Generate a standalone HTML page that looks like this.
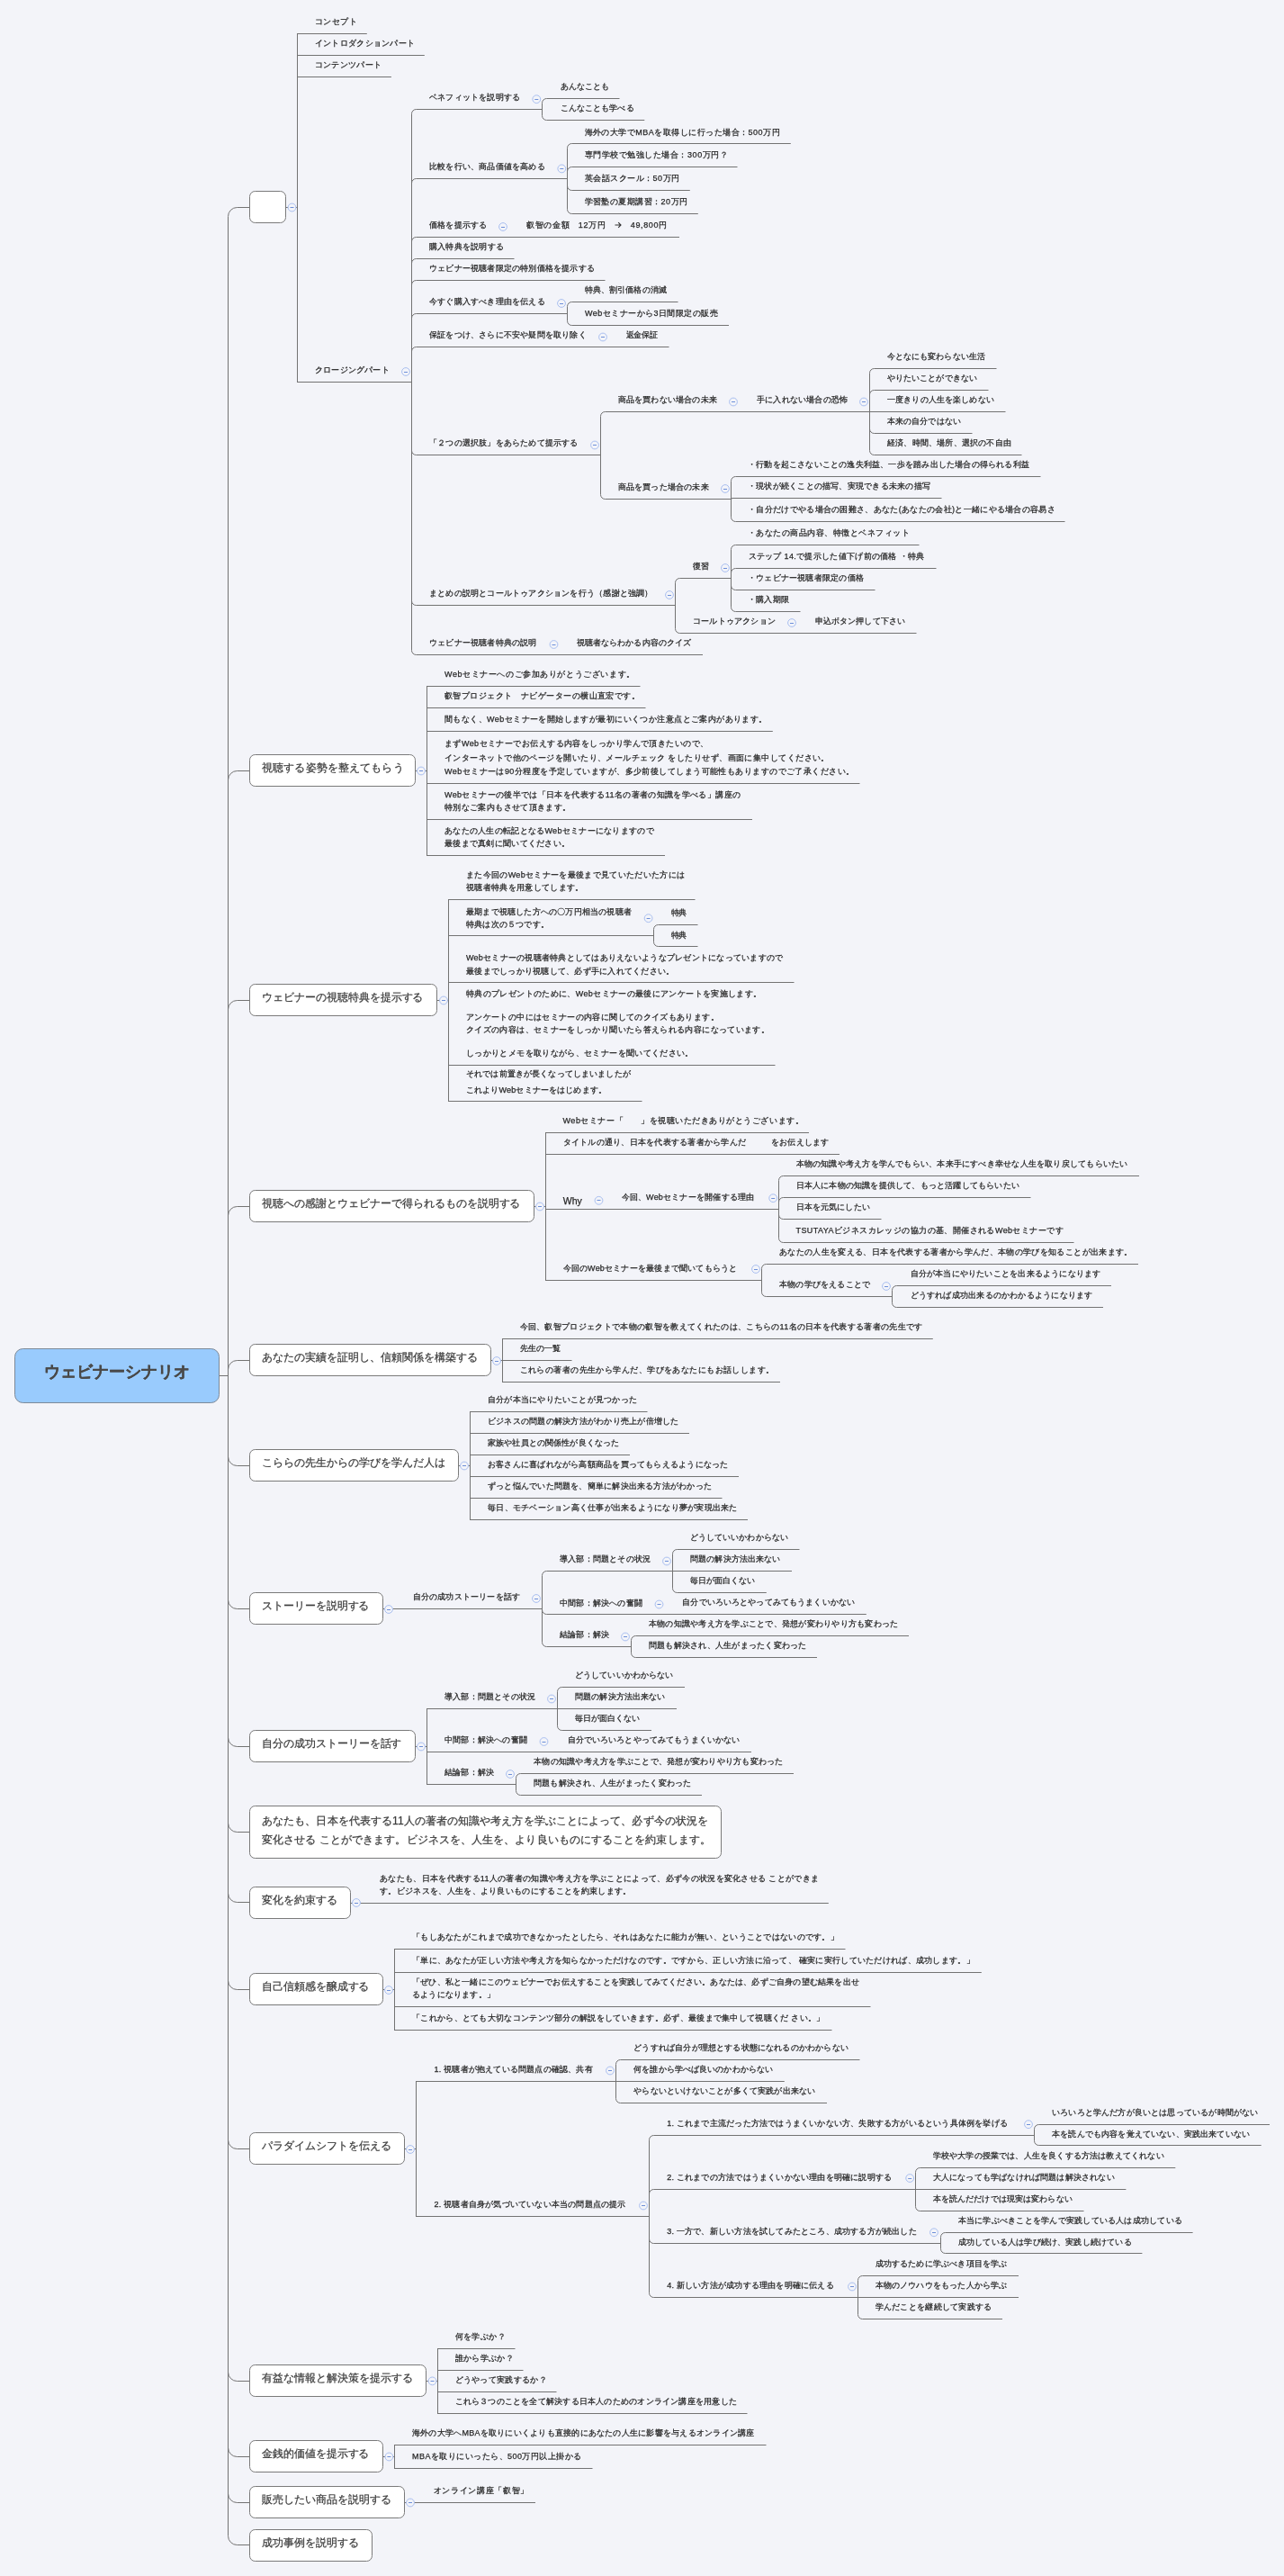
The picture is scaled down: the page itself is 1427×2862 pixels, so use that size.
<!DOCTYPE html><html><head><meta charset="utf-8"><style>
html,body{margin:0;padding:0;width:1427px;height:2862px;overflow:hidden;background:#f3f4f9;}
body{position:relative;font-family:"Liberation Sans",sans-serif;}
.t{position:absolute;white-space:nowrap;-webkit-text-stroke:0.25px currentColor;} #tx{position:absolute;left:0;top:0;width:1427px;height:2862px;will-change:transform;}
#lines{position:absolute;left:0;top:0;}
</style></head><body>
<svg id="lines" width="1427" height="2862" viewBox="0 0 1427 2862">
<path d="M243.7 1528.5H253.5M253.5 240.5A10 10 0 0 1 263.5 230.5H277.5M253.5 866.5A10 10 0 0 1 263.5 856.5H277.5M253.5 1121.5A10 10 0 0 1 263.5 1111.5H277.5M253.5 1350.5A10 10 0 0 1 263.5 1340.5H277.5M253.5 1521.5A10 10 0 0 1 263.5 1511.5H277.5M253.5 1618.5A10 10 0 0 0 263.5 1628.5H277.5M253.5 1777.5A10 10 0 0 0 263.5 1787.5H277.5M253.5 1930.5A10 10 0 0 0 263.5 1940.5H277.5M253.5 2025.5A10 10 0 0 0 263.5 2035.5H277.5M253.5 2103.5A10 10 0 0 0 263.5 2113.5H277.5M253.5 2200.5A10 10 0 0 0 263.5 2210.5H277.5M253.5 2377.5A10 10 0 0 0 263.5 2387.5H277.5M253.5 2635.5A10 10 0 0 0 263.5 2645.5H277.5M253.5 2719.5A10 10 0 0 0 263.5 2729.5H277.5M253.5 2770.5A10 10 0 0 0 263.5 2780.5H277.5M253.5 2817.5A10 10 0 0 0 263.5 2827.5H277.5M253.5 240.5V2817.5M317.5 230.5H330.5M330.5 37.0V425.0M330.5 37.5H407.8M330.5 61.5H471.8M330.5 85.5H434.9M330.5 424.5H457.5M457.5 126.5V722.5M457.5 126.5A5 5 0 0 1 462.5 121.5H602.3M602.5 114.5V128.5M602.5 114.5A5 5 0 0 1 607.5 109.5H688.5M602.5 128.5A5 5 0 0 0 607.5 133.5H716.3M457.5 203.5A5 5 0 0 1 462.5 198.5H630.5M630.5 164.5V232.5M630.5 164.5A5 5 0 0 1 635.5 159.5H878.8M630.5 190.5A5 5 0 0 1 635.5 185.5H819.5M630.5 206.5A5 5 0 0 0 635.5 211.5H766.8M630.5 232.5A5 5 0 0 0 635.5 237.5H775.8M457.5 268.5A5 5 0 0 1 462.5 263.5H755.0M457.5 292.5A5 5 0 0 1 462.5 287.5H571.5M457.5 316.5A5 5 0 0 1 462.5 311.5H672.5M457.5 353.5A5 5 0 0 1 462.5 348.5H630.5M630.5 340.5V356.5M630.5 340.5A5 5 0 0 1 635.5 335.5H753.5M630.5 356.5A5 5 0 0 0 635.5 361.5H810.0M457.5 390.5A5 5 0 0 1 462.5 385.5H743.5M457.5 500.5A5 5 0 0 0 462.5 505.5H667.5M667.5 462.5V549.5M667.5 462.5A5 5 0 0 1 672.5 457.5H966.5M966.5 414.5V500.5M966.5 414.5A5 5 0 0 1 971.5 409.5H1107.5M966.5 438.5A5 5 0 0 1 971.5 433.5H1098.5M966.5 457.5H1117.5M966.5 476.5A5 5 0 0 0 971.5 481.5H1080.5M966.5 500.5A5 5 0 0 0 971.5 505.5H1135.5M667.5 549.5A5 5 0 0 0 672.5 554.5H812.5M812.5 534.5V574.5M812.5 534.5A5 5 0 0 1 817.5 529.5H1156.5M812.5 555.0A1.5 1.5 0 0 1 814.0 553.5H1046.5M812.5 574.5A5 5 0 0 0 817.5 579.5H1183.5M457.5 667.5A5 5 0 0 0 462.5 672.5H751.0M750.5 647.5V698.5M750.5 647.5A5 5 0 0 1 755.5 642.5H812.5M812.5 610.5V674.5M812.5 610.5A5 5 0 0 1 817.5 605.5H1021.5M812.5 636.5A5 5 0 0 1 817.5 631.5H1040.5M812.5 650.5A5 5 0 0 0 817.5 655.5H972.5M812.5 674.5A5 5 0 0 0 817.5 679.5H889.5M750.5 698.5A5 5 0 0 0 755.5 703.5H1018.5M457.5 722.5A5 5 0 0 0 462.5 727.5H781.0M461.5 856.5H474.6M474.5 762.0V951.0M474.6 762.5H711.5M474.6 786.5H717.5M474.6 812.5H858.8M474.6 870.5H955.5M474.6 910.5H836.0M474.6 950.5H739.0M485.5 1111.5H498.8M498.5 999.0V1224.0M498.8 999.5H772.5M498.8 1039.5H726.6M726.5 1032.5V1046.5M726.5 1032.5A5 5 0 0 1 731.5 1027.5H775.5M726.5 1046.5A5 5 0 0 0 731.5 1051.5H775.5M498.8 1091.5H882.5M498.8 1183.5H861.5M498.8 1223.5H713.5M593.5 1340.5H606.5M606.5 1258.0V1423.0M606.5 1258.5H899.0M606.5 1282.5H933.0M606.5 1343.5H865.5M865.5 1311.5V1375.5M865.5 1311.5A5 5 0 0 1 870.5 1306.5H1266.0M865.5 1335.5A5 5 0 0 1 870.5 1330.5H1145.5M865.5 1349.5A5 5 0 0 0 870.5 1354.5H979.5M865.5 1375.5A5 5 0 0 0 870.5 1380.5H1193.5M606.5 1422.5H846.5M846.5 1409.5V1435.5M846.5 1409.5A5 5 0 0 1 851.5 1404.5H1265.0M846.5 1435.5A5 5 0 0 0 851.5 1440.5H991.5M991.5 1433.5V1447.5M991.5 1433.5A5 5 0 0 1 996.5 1428.5H1235.0M991.5 1447.5A5 5 0 0 0 996.5 1452.5H1226.0M545.5 1511.5H558.5M558.5 1487.0V1536.0M558.5 1487.5H1036.8M558.5 1511.5H635.5M558.5 1535.5H867.0M509.5 1628.5H523.0M522.5 1568.0V1689.0M523.0 1568.5H719.5M523.0 1592.5H766.0M523.0 1616.5H700.0M523.0 1640.5H821.0M523.0 1664.5H802.5M523.0 1688.5H831.0M425.5 1787.5H602.5M602.5 1750.5V1824.5M602.5 1750.5A5 5 0 0 1 607.5 1745.5H747.5M747.5 1726.5V1764.5M747.5 1726.5A5 5 0 0 1 752.5 1721.5H888.5M747.5 1745.5H880.0M747.5 1764.5A5 5 0 0 0 752.5 1769.5H851.8M602.5 1788.5A5 5 0 0 0 607.5 1793.5H962.8M602.5 1824.5A5 5 0 0 0 607.5 1829.5H701.2M701.5 1822.5V1836.5M701.5 1822.5A5 5 0 0 1 706.5 1817.5H1010.0M701.5 1836.5A5 5 0 0 0 706.5 1841.5H908.0M461.5 1940.5H474.5M474.5 1898.0V1983.0M474.5 1898.5H619.5M619.5 1879.5V1917.5M619.5 1879.5A5 5 0 0 1 624.5 1874.5H761.0M619.5 1898.5H752.0M619.5 1917.5A5 5 0 0 0 624.5 1922.5H724.0M474.5 1946.5H835.0M474.5 1982.5H573.5M573.5 1975.5V1989.5M573.5 1975.5A5 5 0 0 1 578.5 1970.5H882.0M573.5 1989.5A5 5 0 0 0 578.5 1994.5H780.0M389.5 2114.5H920.8M425.5 2210.5H438.5M438.5 2165.0V2256.0M438.5 2165.5H939.5M438.5 2191.5H1090.8M438.5 2229.5H967.5M438.5 2255.5H924.5M449.5 2387.5H462.5M462.5 2312.0V2463.0M462.5 2312.5H684.5M684.5 2293.5V2331.5M684.5 2293.5A5 5 0 0 1 689.5 2288.5H955.5M684.5 2312.5H871.8M684.5 2331.5A5 5 0 0 0 689.5 2336.5H919.0M462.5 2462.5H721.8M721.5 2377.5V2547.5M721.5 2377.5A5 5 0 0 1 726.5 2372.5H1150.0M1149.5 2365.5V2378.5M1149.5 2365.5A5 5 0 0 1 1154.5 2360.5H1411.0M1149.5 2378.5A5 5 0 0 0 1154.5 2383.5H1401.7M721.5 2437.5A5 5 0 0 1 726.5 2432.5H1017.3M1017.5 2413.5V2451.5M1017.5 2413.5A5 5 0 0 1 1022.5 2408.5H1306.3M1017.3 2432.5H1251.4M1017.5 2451.5A5 5 0 0 0 1022.5 2456.5H1204.5M721.5 2487.5A5 5 0 0 0 726.5 2492.5H1045.6M1045.5 2485.5V2498.5M1045.5 2485.5A5 5 0 0 1 1050.5 2480.5H1325.6M1045.5 2498.5A5 5 0 0 0 1050.5 2503.5H1269.4M721.5 2547.5A5 5 0 0 0 726.5 2552.5H953.5M953.5 2533.5V2571.5M953.5 2533.5A5 5 0 0 1 958.5 2528.5H1132.0M953.5 2552.5H1132.0M953.5 2571.5A5 5 0 0 0 958.5 2576.5H1114.0M473.5 2645.5H486.5M486.5 2609.0V2682.0M486.5 2609.5H572.5M486.5 2633.5H581.5M486.5 2657.5H618.5M486.5 2681.5H830.5M425.5 2729.5H438.4M438.5 2716.0V2743.0M438.4 2716.5H851.5M438.4 2742.5H658.5M449.5 2780.5H595.0" fill="none" stroke="#737373" stroke-width="1"/>
<rect x="277.5" y="212.5" width="40.0" height="35.0" rx="6" fill="#fff" stroke="#7a7a7a"/>
<rect x="277.5" y="838.5" width="184.0" height="35.0" rx="6" fill="#fff" stroke="#7a7a7a"/>
<rect x="277.5" y="1093.5" width="208.0" height="35.0" rx="6" fill="#fff" stroke="#7a7a7a"/>
<rect x="277.5" y="1322.5" width="316.0" height="35.0" rx="6" fill="#fff" stroke="#7a7a7a"/>
<rect x="277.5" y="1493.5" width="268.0" height="35.0" rx="6" fill="#fff" stroke="#7a7a7a"/>
<rect x="277.5" y="1610.5" width="232.0" height="35.0" rx="6" fill="#fff" stroke="#7a7a7a"/>
<rect x="277.5" y="1769.5" width="148.0" height="35.0" rx="6" fill="#fff" stroke="#7a7a7a"/>
<rect x="277.5" y="1922.5" width="184.0" height="35.0" rx="6" fill="#fff" stroke="#7a7a7a"/>
<rect x="277.5" y="2006.5" width="524.0" height="58.0" rx="6" fill="#fff" stroke="#7a7a7a"/>
<rect x="277.5" y="2096.5" width="112.0" height="35.0" rx="6" fill="#fff" stroke="#7a7a7a"/>
<rect x="277.5" y="2192.5" width="148.0" height="35.0" rx="6" fill="#fff" stroke="#7a7a7a"/>
<rect x="277.5" y="2369.5" width="172.0" height="35.0" rx="6" fill="#fff" stroke="#7a7a7a"/>
<rect x="277.5" y="2627.5" width="196.0" height="35.0" rx="6" fill="#fff" stroke="#7a7a7a"/>
<rect x="277.5" y="2711.5" width="148.0" height="35.0" rx="6" fill="#fff" stroke="#7a7a7a"/>
<rect x="277.5" y="2762.5" width="172.0" height="35.0" rx="6" fill="#fff" stroke="#7a7a7a"/>
<rect x="277.5" y="2810.5" width="136.0" height="35.0" rx="6" fill="#fff" stroke="#7a7a7a"/>
<rect x="16.5" y="1498.5" width="227.0" height="60.0" rx="9" fill="#99cbfd" stroke="#7d8a99"/>
<circle cx="324.5" cy="230.5" r="4.4" fill="#f3f4f9" stroke="#a9bff0" stroke-width="1"/>
<path d="M322.5 230.5H326.5" stroke="#6d8fd9" stroke-width="1"/>
<circle cx="451.0" cy="413.0" r="4.4" fill="#f3f4f9" stroke="#a9bff0" stroke-width="1"/>
<path d="M449.0 413.5H453.0" stroke="#6d8fd9" stroke-width="1"/>
<circle cx="596.3" cy="110.2" r="4.4" fill="#f3f4f9" stroke="#a9bff0" stroke-width="1"/>
<path d="M594.3 110.5H598.3" stroke="#6d8fd9" stroke-width="1"/>
<circle cx="624.3" cy="187.4" r="4.4" fill="#f3f4f9" stroke="#a9bff0" stroke-width="1"/>
<path d="M622.3 187.5H626.3" stroke="#6d8fd9" stroke-width="1"/>
<circle cx="559.0" cy="252.0" r="4.4" fill="#f3f4f9" stroke="#a9bff0" stroke-width="1"/>
<path d="M557.0 252.5H561.0" stroke="#6d8fd9" stroke-width="1"/>
<circle cx="624.0" cy="337.0" r="4.4" fill="#f3f4f9" stroke="#a9bff0" stroke-width="1"/>
<path d="M622.0 337.5H626.0" stroke="#6d8fd9" stroke-width="1"/>
<circle cx="670.0" cy="374.5" r="4.4" fill="#f3f4f9" stroke="#a9bff0" stroke-width="1"/>
<path d="M668.0 374.5H672.0" stroke="#6d8fd9" stroke-width="1"/>
<circle cx="661.0" cy="494.5" r="4.4" fill="#f3f4f9" stroke="#a9bff0" stroke-width="1"/>
<path d="M659.0 494.5H663.0" stroke="#6d8fd9" stroke-width="1"/>
<circle cx="815.0" cy="446.5" r="4.4" fill="#f3f4f9" stroke="#a9bff0" stroke-width="1"/>
<path d="M813.0 446.5H817.0" stroke="#6d8fd9" stroke-width="1"/>
<circle cx="960.0" cy="446.5" r="4.4" fill="#f3f4f9" stroke="#a9bff0" stroke-width="1"/>
<path d="M958.0 446.5H962.0" stroke="#6d8fd9" stroke-width="1"/>
<circle cx="806.0" cy="543.0" r="4.4" fill="#f3f4f9" stroke="#a9bff0" stroke-width="1"/>
<path d="M804.0 543.5H808.0" stroke="#6d8fd9" stroke-width="1"/>
<circle cx="744.0" cy="661.0" r="4.4" fill="#f3f4f9" stroke="#a9bff0" stroke-width="1"/>
<path d="M742.0 661.5H746.0" stroke="#6d8fd9" stroke-width="1"/>
<circle cx="806.0" cy="631.0" r="4.4" fill="#f3f4f9" stroke="#a9bff0" stroke-width="1"/>
<path d="M804.0 631.5H808.0" stroke="#6d8fd9" stroke-width="1"/>
<circle cx="880.0" cy="692.0" r="4.4" fill="#f3f4f9" stroke="#a9bff0" stroke-width="1"/>
<path d="M878.0 692.5H882.0" stroke="#6d8fd9" stroke-width="1"/>
<circle cx="615.5" cy="716.0" r="4.4" fill="#f3f4f9" stroke="#a9bff0" stroke-width="1"/>
<path d="M613.5 716.5H617.5" stroke="#6d8fd9" stroke-width="1"/>
<circle cx="468.0" cy="856.5" r="4.4" fill="#f3f4f9" stroke="#a9bff0" stroke-width="1"/>
<path d="M466.0 856.5H470.0" stroke="#6d8fd9" stroke-width="1"/>
<circle cx="493.0" cy="1111.5" r="4.4" fill="#f3f4f9" stroke="#a9bff0" stroke-width="1"/>
<path d="M491.0 1111.5H495.0" stroke="#6d8fd9" stroke-width="1"/>
<circle cx="720.6" cy="1020.2" r="4.4" fill="#f3f4f9" stroke="#a9bff0" stroke-width="1"/>
<path d="M718.6 1020.5H722.6" stroke="#6d8fd9" stroke-width="1"/>
<circle cx="600.0" cy="1340.5" r="4.4" fill="#f3f4f9" stroke="#a9bff0" stroke-width="1"/>
<path d="M598.0 1340.5H602.0" stroke="#6d8fd9" stroke-width="1"/>
<circle cx="665.5" cy="1333.8" r="4.4" fill="#f3f4f9" stroke="#a9bff0" stroke-width="1"/>
<path d="M663.5 1333.5H667.5" stroke="#6d8fd9" stroke-width="1"/>
<circle cx="859.2" cy="1331.2" r="4.4" fill="#f3f4f9" stroke="#a9bff0" stroke-width="1"/>
<path d="M857.2 1331.5H861.2" stroke="#6d8fd9" stroke-width="1"/>
<circle cx="840.0" cy="1410.0" r="4.4" fill="#f3f4f9" stroke="#a9bff0" stroke-width="1"/>
<path d="M838.0 1410.5H842.0" stroke="#6d8fd9" stroke-width="1"/>
<circle cx="985.0" cy="1429.0" r="4.4" fill="#f3f4f9" stroke="#a9bff0" stroke-width="1"/>
<path d="M983.0 1429.5H987.0" stroke="#6d8fd9" stroke-width="1"/>
<circle cx="552.0" cy="1512.0" r="4.4" fill="#f3f4f9" stroke="#a9bff0" stroke-width="1"/>
<path d="M550.0 1512.5H554.0" stroke="#6d8fd9" stroke-width="1"/>
<circle cx="516.0" cy="1628.5" r="4.4" fill="#f3f4f9" stroke="#a9bff0" stroke-width="1"/>
<path d="M514.0 1628.5H518.0" stroke="#6d8fd9" stroke-width="1"/>
<circle cx="432.0" cy="1788.0" r="4.4" fill="#f3f4f9" stroke="#a9bff0" stroke-width="1"/>
<path d="M430.0 1788.5H434.0" stroke="#6d8fd9" stroke-width="1"/>
<circle cx="596.0" cy="1776.0" r="4.4" fill="#f3f4f9" stroke="#a9bff0" stroke-width="1"/>
<path d="M594.0 1776.5H598.0" stroke="#6d8fd9" stroke-width="1"/>
<circle cx="741.0" cy="1734.5" r="4.4" fill="#f3f4f9" stroke="#a9bff0" stroke-width="1"/>
<path d="M739.0 1734.5H743.0" stroke="#6d8fd9" stroke-width="1"/>
<circle cx="732.5" cy="1782.5" r="4.4" fill="#f3f4f9" stroke="#a9bff0" stroke-width="1"/>
<path d="M730.5 1782.5H734.5" stroke="#6d8fd9" stroke-width="1"/>
<circle cx="695.0" cy="1818.5" r="4.4" fill="#f3f4f9" stroke="#a9bff0" stroke-width="1"/>
<path d="M693.0 1818.5H697.0" stroke="#6d8fd9" stroke-width="1"/>
<circle cx="468.0" cy="1940.5" r="4.4" fill="#f3f4f9" stroke="#a9bff0" stroke-width="1"/>
<path d="M466.0 1940.5H470.0" stroke="#6d8fd9" stroke-width="1"/>
<circle cx="613.0" cy="1887.5" r="4.4" fill="#f3f4f9" stroke="#a9bff0" stroke-width="1"/>
<path d="M611.0 1887.5H615.0" stroke="#6d8fd9" stroke-width="1"/>
<circle cx="604.5" cy="1935.0" r="4.4" fill="#f3f4f9" stroke="#a9bff0" stroke-width="1"/>
<path d="M602.5 1935.5H606.5" stroke="#6d8fd9" stroke-width="1"/>
<circle cx="567.0" cy="1971.0" r="4.4" fill="#f3f4f9" stroke="#a9bff0" stroke-width="1"/>
<path d="M565.0 1971.5H569.0" stroke="#6d8fd9" stroke-width="1"/>
<circle cx="396.0" cy="2114.0" r="4.4" fill="#f3f4f9" stroke="#a9bff0" stroke-width="1"/>
<path d="M394.0 2114.5H398.0" stroke="#6d8fd9" stroke-width="1"/>
<circle cx="432.0" cy="2211.0" r="4.4" fill="#f3f4f9" stroke="#a9bff0" stroke-width="1"/>
<path d="M430.0 2211.5H434.0" stroke="#6d8fd9" stroke-width="1"/>
<circle cx="456.0" cy="2388.0" r="4.4" fill="#f3f4f9" stroke="#a9bff0" stroke-width="1"/>
<path d="M454.0 2388.5H458.0" stroke="#6d8fd9" stroke-width="1"/>
<circle cx="678.0" cy="2300.5" r="4.4" fill="#f3f4f9" stroke="#a9bff0" stroke-width="1"/>
<path d="M676.0 2300.5H680.0" stroke="#6d8fd9" stroke-width="1"/>
<circle cx="715.0" cy="2450.5" r="4.4" fill="#f3f4f9" stroke="#a9bff0" stroke-width="1"/>
<path d="M713.0 2450.5H717.0" stroke="#6d8fd9" stroke-width="1"/>
<circle cx="1143.0" cy="2360.2" r="4.4" fill="#f3f4f9" stroke="#a9bff0" stroke-width="1"/>
<path d="M1141.0 2360.5H1145.0" stroke="#6d8fd9" stroke-width="1"/>
<circle cx="1011.2" cy="2420.0" r="4.4" fill="#f3f4f9" stroke="#a9bff0" stroke-width="1"/>
<path d="M1009.2 2420.5H1013.2" stroke="#6d8fd9" stroke-width="1"/>
<circle cx="1038.0" cy="2480.3" r="4.4" fill="#f3f4f9" stroke="#a9bff0" stroke-width="1"/>
<path d="M1036.0 2480.5H1040.0" stroke="#6d8fd9" stroke-width="1"/>
<circle cx="947.0" cy="2540.5" r="4.4" fill="#f3f4f9" stroke="#a9bff0" stroke-width="1"/>
<path d="M945.0 2540.5H949.0" stroke="#6d8fd9" stroke-width="1"/>
<circle cx="480.5" cy="2645.4" r="4.4" fill="#f3f4f9" stroke="#a9bff0" stroke-width="1"/>
<path d="M478.5 2645.5H482.5" stroke="#6d8fd9" stroke-width="1"/>
<circle cx="432.4" cy="2729.5" r="4.4" fill="#f3f4f9" stroke="#a9bff0" stroke-width="1"/>
<path d="M430.4 2729.5H434.4" stroke="#6d8fd9" stroke-width="1"/>
<circle cx="456.0" cy="2780.5" r="4.4" fill="#f3f4f9" stroke="#a9bff0" stroke-width="1"/>
<path d="M454.0 2780.5H458.0" stroke="#6d8fd9" stroke-width="1"/>
</svg>
<div id="tx">
<div class="t" id="root" style="left:16.4px;top:1508.60px;width:227.29999999999998px;text-align:center;font-size:18px;line-height:30px;font-weight:bold;color:#4a4a4a">ウェビナーシナリオ</div>
<div class="t" id="t1_0" style="left:349.80px;top:16.95px;font-size:9px;line-height:14px;color:#262626;letter-spacing:0.562px">コンセプト</div>
<div class="t" id="t2_0" style="left:349.80px;top:41.35px;font-size:9px;line-height:14px;color:#262626;letter-spacing:0.295px">イントロダクションパート</div>
<div class="t" id="t3_0" style="left:349.80px;top:65.25px;font-size:9px;line-height:14px;color:#262626;letter-spacing:0.336px">コンテンツパート</div>
<div class="t" id="t4_0" style="left:350.00px;top:403.75px;font-size:9px;line-height:14px;color:#262626;letter-spacing:0.205px">クロージングパート</div>
<div class="t" id="t5_0" style="left:477.00px;top:101.25px;font-size:9px;line-height:14px;color:#262626;letter-spacing:0.205px">ベネフィットを説明する</div>
<div class="t" id="t6_0" style="left:622.50px;top:89.25px;font-size:9px;line-height:14px;color:#262626;letter-spacing:0.050px">あんなことも</div>
<div class="t" id="t7_0" style="left:622.50px;top:113.25px;font-size:9px;line-height:14px;color:#262626;letter-spacing:0.131px">こんなことも学べる</div>
<div class="t" id="t8_0" style="left:477.00px;top:178.25px;font-size:9px;line-height:14px;color:#262626;letter-spacing:0.205px">比較を行い、商品価値を高める</div>
<div class="t" id="t9_0" style="left:649.50px;top:139.50px;font-size:9px;line-height:14px;color:#262626;letter-spacing:0.479px">海外の大学でMBAを取得しに行った場合：500万円</div>
<div class="t" id="t10_0" style="left:649.50px;top:165.25px;font-size:9px;line-height:14px;color:#262626;letter-spacing:0.544px">専門学校で勉強した場合：300万円？</div>
<div class="t" id="t11_0" style="left:649.50px;top:191.25px;font-size:9px;line-height:14px;color:#262626;letter-spacing:0.500px">英会話スクール：50万円</div>
<div class="t" id="t12_0" style="left:649.50px;top:217.25px;font-size:9px;line-height:14px;color:#262626;letter-spacing:0.458px">学習塾の夏期講習：20万円</div>
<div class="t" id="t13_0" style="left:477.00px;top:243.25px;font-size:9px;line-height:14px;color:#262626;letter-spacing:0.205px">価格を提示する</div>
<div class="t" id="t14_0" style="left:585.00px;top:243.25px;font-size:9px;line-height:14px;color:#262626;letter-spacing:0.645px">叡智の金額　12万円　<svg width="8" height="8" viewBox="0 0 8 8" style="vertical-align:-1px"><path d="M0.5 4H7M4.2 1.2L7 4L4.2 6.8" fill="none" stroke="#333" stroke-width="1.1"/></svg>　49,800円</div>
<div class="t" id="t15_0" style="left:477.00px;top:267.25px;font-size:9px;line-height:14px;color:#262626;letter-spacing:0.219px">購入特典を説明する</div>
<div class="t" id="t16_0" style="left:477.00px;top:291.25px;font-size:9px;line-height:14px;color:#262626;letter-spacing:0.197px">ウェビナー視聴者限定の特別価格を提示する</div>
<div class="t" id="t17_0" style="left:477.00px;top:328.25px;font-size:9px;line-height:14px;color:#262626;letter-spacing:0.205px">今すぐ購入すべき理由を伝える</div>
<div class="t" id="t18_0" style="left:650.00px;top:315.25px;font-size:9px;line-height:14px;color:#262626;letter-spacing:0.083px">特典、割引価格の消滅</div>
<div class="t" id="t19_0" style="left:650.00px;top:341.25px;font-size:9px;line-height:14px;color:#262626;letter-spacing:0.453px">Webセミナーから3日間限定の販売</div>
<div class="t" id="t20_0" style="left:477.00px;top:365.25px;font-size:9px;line-height:14px;color:#262626;letter-spacing:0.205px">保証をつけ、さらに不安や疑問を取り除く</div>
<div class="t" id="t21_0" style="left:695.50px;top:365.25px;font-size:9px;line-height:14px;color:#262626;letter-spacing:-0.250px">返金保証</div>
<div class="t" id="t22_0" style="left:477.00px;top:485.25px;font-size:9px;line-height:14px;color:#262626;letter-spacing:0.205px">「２つの選択肢」をあらためて提示する</div>
<div class="t" id="t23_0" style="left:686.50px;top:437.25px;font-size:9px;line-height:14px;color:#262626;letter-spacing:0.205px">商品を買わない場合の未来</div>
<div class="t" id="t24_0" style="left:841.00px;top:437.25px;font-size:9px;line-height:14px;color:#262626;letter-spacing:0.205px">手に入れない場合の恐怖</div>
<div class="t" id="t25_0" style="left:986.00px;top:389.25px;font-size:9px;line-height:14px;color:#262626;letter-spacing:0.068px">今となにも変わらない生活</div>
<div class="t" id="t26_0" style="left:986.00px;top:413.25px;font-size:9px;line-height:14px;color:#262626;letter-spacing:0.075px">やりたいことができない</div>
<div class="t" id="t27_0" style="left:986.00px;top:437.25px;font-size:9px;line-height:14px;color:#262626;letter-spacing:0.146px">一度きりの人生を楽しめない</div>
<div class="t" id="t28_0" style="left:986.00px;top:461.25px;font-size:9px;line-height:14px;color:#262626;letter-spacing:0.094px">本来の自分ではない</div>
<div class="t" id="t29_0" style="left:986.00px;top:485.25px;font-size:9px;line-height:14px;color:#262626;letter-spacing:0.196px">経済、時間、場所、選択の不自由</div>
<div class="t" id="t30_0" style="left:686.50px;top:534.25px;font-size:9px;line-height:14px;color:#262626;letter-spacing:0.205px">商品を買った場合の未来</div>
<div class="t" id="t31_0" style="left:831.00px;top:508.75px;font-size:9px;line-height:14px;color:#262626;letter-spacing:0.205px">・行動を起こさないことの逸失利益、一歩を踏み出した場合の得られる利益</div>
<div class="t" id="t32_0" style="left:831.00px;top:533.25px;font-size:9px;line-height:14px;color:#262626;letter-spacing:0.226px">・現状が続くことの描写、実現できる未来の描写</div>
<div class="t" id="t33_0" style="left:831.00px;top:558.75px;font-size:9px;line-height:14px;color:#262626;letter-spacing:0.318px">・自分だけでやる場合の困難さ、あなた(あなたの会社)と一緒にやる場合の容易さ</div>
<div class="t" id="t34_0" style="left:477.00px;top:651.75px;font-size:9px;line-height:14px;color:#262626;letter-spacing:0.205px">まとめの説明とコールトゥアクションを行う（感謝と強調）</div>
<div class="t" id="t35_0" style="left:770.00px;top:621.75px;font-size:9px;line-height:14px;color:#262626;letter-spacing:0.205px">復習</div>
<div class="t" id="t36_0" style="left:831.00px;top:584.75px;font-size:9px;line-height:14px;color:#262626;letter-spacing:0.486px">・あなたの商品内容、特徴とベネフィット</div>
<div class="t" id="t37_0" style="left:831.50px;top:610.75px;font-size:9px;line-height:14px;color:#262626;letter-spacing:0.315px">ステップ 14.で提示した値下げ前の価格 ・特典</div>
<div class="t" id="t38_0" style="left:831.00px;top:634.75px;font-size:9px;line-height:14px;color:#262626;letter-spacing:0.212px">・ウェビナー視聴者限定の価格</div>
<div class="t" id="t39_0" style="left:831.00px;top:659.25px;font-size:9px;line-height:14px;color:#262626;letter-spacing:0.188px">・購入期限</div>
<div class="t" id="t40_0" style="left:770.00px;top:682.75px;font-size:9px;line-height:14px;color:#262626;letter-spacing:0.205px">コールトゥアクション</div>
<div class="t" id="t41_0" style="left:906.00px;top:682.75px;font-size:9px;line-height:14px;color:#262626;letter-spacing:0.075px">申込ボタン押して下さい</div>
<div class="t" id="t42_0" style="left:477.00px;top:706.75px;font-size:9px;line-height:14px;color:#262626;letter-spacing:0.205px">ウェビナー視聴者特典の説明</div>
<div class="t" id="t43_0" style="left:640.50px;top:706.75px;font-size:9px;line-height:14px;color:#262626;letter-spacing:0.135px">視聴者ならわかる内容のクイズ</div>
<div class="t" id="t44_0" style="left:291.00px;top:842.50px;font-size:12px;line-height:20px;color:#3d3d3d;letter-spacing:0.125px">視聴する姿勢を整えてもらう</div>
<div class="t" id="t45_0" style="left:494.00px;top:741.75px;font-size:9px;line-height:14px;color:#262626;letter-spacing:0.580px">Webセミナーへのご参加ありがとうございます。</div>
<div class="t" id="t46_0" style="left:494.00px;top:765.75px;font-size:9px;line-height:14px;color:#262626;letter-spacing:0.443px">叡智プロジェクト　ナビゲーターの横山直宏です。</div>
<div class="t" id="t47_0" style="left:494.00px;top:791.75px;font-size:9px;line-height:14px;color:#262626;letter-spacing:0.421px">間もなく、Webセミナーを開始しますが最初にいくつか注意点とご案内があります。</div>
<div class="t" id="t48_0" style="left:494.00px;top:818.95px;font-size:9px;line-height:14px;color:#262626;letter-spacing:0.444px">まずWebセミナーでお伝えする内容をしっかり学んで頂きたいので、</div>
<div class="t" id="t48_1" style="left:494.00px;top:834.75px;font-size:9px;line-height:14px;color:#262626;letter-spacing:0.444px">インターネットで他のページを開いたり、メールチェック をしたりせず、画面に集中してください。</div>
<div class="t" id="t48_2" style="left:494.00px;top:850.15px;font-size:9px;line-height:14px;color:#262626;letter-spacing:0.444px">Webセミナーは90分程度を予定していますが、多少前後してしまう可能性もありますのでご了承ください。</div>
<div class="t" id="t49_0" style="left:494.00px;top:876.25px;font-size:9px;line-height:14px;color:#262626;letter-spacing:0.368px">Webセミナーの後半では「日本を代表する11名の著者の知識を学べる」講座の</div>
<div class="t" id="t49_1" style="left:494.00px;top:889.75px;font-size:9px;line-height:14px;color:#262626;letter-spacing:0.368px">特別なご案内もさせて頂きます。</div>
<div class="t" id="t50_0" style="left:494.00px;top:915.75px;font-size:9px;line-height:14px;color:#262626;letter-spacing:0.290px">あなたの人生の転記となるWebセミナーになりますので</div>
<div class="t" id="t50_1" style="left:494.00px;top:929.75px;font-size:9px;line-height:14px;color:#262626;letter-spacing:0.290px">最後まで真剣に聞いてください。</div>
<div class="t" id="t51_0" style="left:291.00px;top:1098.00px;font-size:12px;line-height:20px;color:#3d3d3d;letter-spacing:-0.036px">ウェビナーの視聴特典を提示する</div>
<div class="t" id="t52_0" style="left:518.00px;top:965.25px;font-size:9px;line-height:14px;color:#262626;letter-spacing:0.337px">また今回のWebセミナーを最後まで見ていただいた方には</div>
<div class="t" id="t52_1" style="left:518.00px;top:978.75px;font-size:9px;line-height:14px;color:#262626;letter-spacing:0.337px">視聴者特典を用意してします。</div>
<div class="t" id="t53_0" style="left:518.00px;top:1005.65px;font-size:9px;line-height:14px;color:#262626;letter-spacing:0.205px">最期まで視聴した方への〇万円相当の視聴者</div>
<div class="t" id="t53_1" style="left:518.00px;top:1019.75px;font-size:9px;line-height:14px;color:#262626;letter-spacing:0.205px">特典は次の５つです。</div>
<div class="t" id="t54_0" style="left:746.00px;top:1007.35px;font-size:9px;line-height:14px;color:#262626;letter-spacing:-1.250px">特典</div>
<div class="t" id="t55_0" style="left:746.00px;top:1031.55px;font-size:9px;line-height:14px;color:#262626;letter-spacing:-1.250px">特典</div>
<div class="t" id="t56_0" style="left:518.00px;top:1057.00px;font-size:9px;line-height:14px;color:#262626;letter-spacing:0.257px">Webセミナーの視聴者特典としてはありえないようなプレゼントになっていますので</div>
<div class="t" id="t56_1" style="left:518.00px;top:1071.50px;font-size:9px;line-height:14px;color:#262626;letter-spacing:0.257px">最後までしっかり視聴して、必ず手に入れてください。</div>
<div class="t" id="t57_0" style="left:518.00px;top:1097.25px;font-size:9px;line-height:14px;color:#262626;letter-spacing:0.364px">特典のプレゼントのために、Webセミナーの最後にアンケートを実施します。</div>
<div class="t" id="t57_1" style="left:518.00px;top:1123.25px;font-size:9px;line-height:14px;color:#262626;letter-spacing:0.364px">アンケートの中にはセミナーの内容に関してのクイズもあります。</div>
<div class="t" id="t57_2" style="left:518.00px;top:1137.25px;font-size:9px;line-height:14px;color:#262626;letter-spacing:0.364px">クイズの内容は、セミナーをしっかり聞いたら答えられる内容になっています。</div>
<div class="t" id="t57_3" style="left:518.00px;top:1163.00px;font-size:9px;line-height:14px;color:#262626;letter-spacing:0.364px">しっかりとメモを取りながら、セミナーを聞いてください。</div>
<div class="t" id="t58_0" style="left:518.00px;top:1186.00px;font-size:9px;line-height:14px;color:#262626;letter-spacing:0.145px">それでは前置きが長くなってしまいましたが</div>
<div class="t" id="t58_1" style="left:518.00px;top:1203.50px;font-size:9px;line-height:14px;color:#262626;letter-spacing:0.145px">これよりWebセミナーをはじめます。</div>
<div class="t" id="t59_0" style="left:291.00px;top:1327.00px;font-size:12px;line-height:20px;color:#3d3d3d;letter-spacing:-0.022px">視聴への感謝とウェビナーで得られるものを説明する</div>
<div class="t" id="t60_0" style="left:625.50px;top:1237.75px;font-size:9px;line-height:14px;color:#262626;letter-spacing:0.527px">Webセミナー「　　」を視聴いただきありがとうございます。</div>
<div class="t" id="t61_0" style="left:625.50px;top:1261.75px;font-size:9px;line-height:14px;color:#262626;letter-spacing:0.250px">タイトルの通り、日本を代表する著者から学んだ　　　をお伝えします</div>
<div class="t" id="t62_0" style="left:625.75px;top:1327.00px;font-size:10.5px;line-height:14px;color:#262626">Why</div>
<div class="t" id="t63_0" style="left:690.50px;top:1323.25px;font-size:9px;line-height:14px;color:#262626;letter-spacing:0.205px">今回、Webセミナーを開催する理由</div>
<div class="t" id="t64_0" style="left:884.50px;top:1286.25px;font-size:9px;line-height:14px;color:#262626;letter-spacing:0.224px">本物の知識や考え方を学んでもらい、本来手にすべき幸せな人生を取り戻してもらいたい</div>
<div class="t" id="t65_0" style="left:884.50px;top:1310.25px;font-size:9px;line-height:14px;color:#262626;letter-spacing:0.202px">日本人に本物の知識を提供して、もっと活躍してもらいたい</div>
<div class="t" id="t66_0" style="left:884.50px;top:1333.75px;font-size:9px;line-height:14px;color:#262626;letter-spacing:0.156px">日本を元気にしたい</div>
<div class="t" id="t67_0" style="left:884.50px;top:1360.25px;font-size:9px;line-height:14px;color:#262626;letter-spacing:0.419px">TSUTAYAビジネスカレッジの協力の基、開催されるWebセミナーです</div>
<div class="t" id="t68_0" style="left:625.50px;top:1401.75px;font-size:9px;line-height:14px;color:#262626;letter-spacing:0.205px">今回のWebセミナーを最後まで聞いてもらうと</div>
<div class="t" id="t69_0" style="left:866.00px;top:1384.25px;font-size:9px;line-height:14px;color:#262626;letter-spacing:0.348px">あなたの人生を変える、日本を代表する著者から学んだ、本物の学びを知ることが出来ます。</div>
<div class="t" id="t70_0" style="left:866.00px;top:1420.25px;font-size:9px;line-height:14px;color:#262626;letter-spacing:0.205px">本物の学びをえることで</div>
<div class="t" id="t71_0" style="left:1011.50px;top:1407.75px;font-size:9px;line-height:14px;color:#262626;letter-spacing:0.216px">自分が本当にやりたいことを出来るようになります</div>
<div class="t" id="t72_0" style="left:1011.50px;top:1431.75px;font-size:9px;line-height:14px;color:#262626;letter-spacing:0.226px">どうすれば成功出来るのかわかるようになります</div>
<div class="t" id="t73_0" style="left:291.00px;top:1498.00px;font-size:12px;line-height:20px;color:#3d3d3d;letter-spacing:-0.026px">あなたの実績を証明し、信頼関係を構築する</div>
<div class="t" id="t74_0" style="left:577.50px;top:1466.75px;font-size:9px;line-height:14px;color:#262626;letter-spacing:0.323px">今回、叡智プロジェクトで本物の叡智を教えてくれたのは、こちらの11名の日本を代表する著者の先生です</div>
<div class="t" id="t75_0" style="left:577.50px;top:1490.75px;font-size:9px;line-height:14px;color:#262626;letter-spacing:0.062px">先生の一覧</div>
<div class="t" id="t76_0" style="left:577.50px;top:1515.25px;font-size:9px;line-height:14px;color:#262626;letter-spacing:0.440px">これらの著者の先生から学んだ、学びをあなたにもお話しします。</div>
<div class="t" id="t77_0" style="left:291.00px;top:1614.50px;font-size:12px;line-height:20px;color:#3d3d3d;letter-spacing:-0.031px">こららの先生からの学びを学んだ人は</div>
<div class="t" id="t78_0" style="left:542.00px;top:1547.75px;font-size:9px;line-height:14px;color:#262626;letter-spacing:0.221px">自分が本当にやりたいことが見つかった</div>
<div class="t" id="t79_0" style="left:542.00px;top:1571.75px;font-size:9px;line-height:14px;color:#262626;letter-spacing:0.239px">ビジネスの問題の解決方法がわかり売上が倍増した</div>
<div class="t" id="t80_0" style="left:542.00px;top:1595.75px;font-size:9px;line-height:14px;color:#262626;letter-spacing:0.150px">家族や社員との関係性が良くなった</div>
<div class="t" id="t81_0" style="left:542.00px;top:1619.75px;font-size:9px;line-height:14px;color:#262626;letter-spacing:0.223px">お客さんに喜ばれながら高額商品を買ってもらえるようになった</div>
<div class="t" id="t82_0" style="left:542.00px;top:1643.75px;font-size:9px;line-height:14px;color:#262626;letter-spacing:0.221px">ずっと悩んでいた問題を、簡単に解決出来る方法がわかった</div>
<div class="t" id="t83_0" style="left:542.00px;top:1667.75px;font-size:9px;line-height:14px;color:#262626;letter-spacing:0.250px">毎日、モチベーション高く仕事が出来るようになり夢が実現出来た</div>
<div class="t" id="t84_0" style="left:291.00px;top:1774.00px;font-size:12px;line-height:20px;color:#3d3d3d;letter-spacing:-0.056px">ストーリーを説明する</div>
<div class="t" id="t85_0" style="left:458.50px;top:1766.75px;font-size:9px;line-height:14px;color:#262626;letter-spacing:0.205px">自分の成功ストーリーを話す</div>
<div class="t" id="t86_0" style="left:622.00px;top:1725.25px;font-size:9px;line-height:14px;color:#262626;letter-spacing:0.205px">導入部：問題とその状況</div>
<div class="t" id="t87_0" style="left:767.00px;top:1701.25px;font-size:9px;line-height:14px;color:#262626;letter-spacing:0.068px">どうしていいかわからない</div>
<div class="t" id="t88_0" style="left:767.00px;top:1725.25px;font-size:9px;line-height:14px;color:#262626;letter-spacing:0.125px">問題の解決方法出来ない</div>
<div class="t" id="t89_0" style="left:767.00px;top:1748.75px;font-size:9px;line-height:14px;color:#262626;letter-spacing:0.000px">毎日が面白くない</div>
<div class="t" id="t90_0" style="left:622.00px;top:1773.75px;font-size:9px;line-height:14px;color:#262626;letter-spacing:0.205px">中間部：解決への奮闘</div>
<div class="t" id="t91_0" style="left:758.25px;top:1773.00px;font-size:9px;line-height:14px;color:#262626;letter-spacing:0.138px">自分でいろいろとやってみてもうまくいかない</div>
<div class="t" id="t92_0" style="left:622.00px;top:1809.25px;font-size:9px;line-height:14px;color:#262626;letter-spacing:0.205px">結論部：解決</div>
<div class="t" id="t93_0" style="left:720.75px;top:1797.25px;font-size:9px;line-height:14px;color:#262626;letter-spacing:0.259px">本物の知識や考え方を学ぶことで、発想が変わりやり方も変わった</div>
<div class="t" id="t94_0" style="left:720.75px;top:1821.00px;font-size:9px;line-height:14px;color:#262626;letter-spacing:0.250px">問題も解決され、人生がまったく変わった</div>
<div class="t" id="t95_0" style="left:291.00px;top:1927.00px;font-size:12px;line-height:20px;color:#3d3d3d;letter-spacing:-0.042px">自分の成功ストーリーを話す</div>
<div class="t" id="t96_0" style="left:494.00px;top:1878.25px;font-size:9px;line-height:14px;color:#262626;letter-spacing:0.205px">導入部：問題とその状況</div>
<div class="t" id="t97_0" style="left:639.00px;top:1854.25px;font-size:9px;line-height:14px;color:#262626;letter-spacing:0.114px">どうしていいかわからない</div>
<div class="t" id="t98_0" style="left:639.00px;top:1878.25px;font-size:9px;line-height:14px;color:#262626;letter-spacing:0.125px">問題の解決方法出来ない</div>
<div class="t" id="t99_0" style="left:639.00px;top:1902.25px;font-size:9px;line-height:14px;color:#262626;letter-spacing:0.036px">毎日が面白くない</div>
<div class="t" id="t100_0" style="left:494.00px;top:1926.25px;font-size:9px;line-height:14px;color:#262626;letter-spacing:0.205px">中間部：解決への奮闘</div>
<div class="t" id="t101_0" style="left:630.50px;top:1926.25px;font-size:9px;line-height:14px;color:#262626;letter-spacing:0.138px">自分でいろいろとやってみてもうまくいかない</div>
<div class="t" id="t102_0" style="left:494.00px;top:1962.25px;font-size:9px;line-height:14px;color:#262626;letter-spacing:0.205px">結論部：解決</div>
<div class="t" id="t103_0" style="left:593.00px;top:1949.75px;font-size:9px;line-height:14px;color:#262626;letter-spacing:0.250px">本物の知識や考え方を学ぶことで、発想が変わりやり方も変わった</div>
<div class="t" id="t104_0" style="left:593.00px;top:1973.75px;font-size:9px;line-height:14px;color:#262626;letter-spacing:0.236px">問題も解決され、人生がまったく変わった</div>
<div class="t" id="t105_0" style="left:291.00px;top:2013.00px;font-size:12px;line-height:20px;color:#3d3d3d;letter-spacing:0.085px">あなたも、日本を代表する11人の著者の知識や考え方を学ぶことによって、必ず今の状況を</div>
<div class="t" id="t105_1" style="left:291.00px;top:2033.50px;font-size:12px;line-height:20px;color:#3d3d3d;letter-spacing:0.085px">変化させる ことができます。ビジネスを、人生を、より良いものにすることを約束します。</div>
<div class="t" id="t106_0" style="left:291.00px;top:2101.00px;font-size:12px;line-height:20px;color:#3d3d3d;letter-spacing:-0.083px">変化を約束する</div>
<div class="t" id="t107_0" style="left:422.00px;top:2079.75px;font-size:9px;line-height:14px;color:#262626;letter-spacing:0.321px">あなたも、日本を代表する11人の著者の知識や考え方を学ぶことによって、必ず今の状況を変化させる ことができま</div>
<div class="t" id="t107_1" style="left:422.00px;top:2093.75px;font-size:9px;line-height:14px;color:#262626;letter-spacing:0.321px">す。ビジネスを、人生を、より良いものにすることを約束します。</div>
<div class="t" id="t108_0" style="left:291.00px;top:2197.00px;font-size:12px;line-height:20px;color:#3d3d3d;letter-spacing:-0.056px">自己信頼感を醸成する</div>
<div class="t" id="t109_0" style="left:458.00px;top:2144.75px;font-size:9px;line-height:14px;color:#262626;letter-spacing:0.295px">「もしあなたがこれまで成功できなかったとしたら、それはあなたに能力が無い、ということではないのです。」</div>
<div class="t" id="t110_0" style="left:458.00px;top:2171.25px;font-size:9px;line-height:14px;color:#262626;letter-spacing:0.284px">「単に、あなたが正しい方法や考え方を知らなかっただけなのです。ですから、正しい方法に沿って、 確実に実行していただければ、成功します。」</div>
<div class="t" id="t111_0" style="left:458.00px;top:2194.75px;font-size:9px;line-height:14px;color:#262626;letter-spacing:0.203px">「ぜひ、私と一緒にこのウェビナーでお伝えすることを実践してみてください。あなたは、必ずご自身の望む結果を出せ</div>
<div class="t" id="t111_1" style="left:458.00px;top:2208.75px;font-size:9px;line-height:14px;color:#262626;letter-spacing:0.203px">るようになります。」</div>
<div class="t" id="t112_0" style="left:458.00px;top:2235.25px;font-size:9px;line-height:14px;color:#262626;letter-spacing:0.301px">「これから、とても大切なコンテンツ部分の解説をしていきます。必ず、最後まで集中して視聴くだ さい。」</div>
<div class="t" id="t113_0" style="left:291.00px;top:2374.00px;font-size:12px;line-height:20px;color:#3d3d3d;letter-spacing:-0.045px">パラダイムシフトを伝える</div>
<div class="t" id="t114_0" style="left:482.50px;top:2291.75px;font-size:9px;line-height:14px;color:#262626;letter-spacing:0.205px">1. 視聴者が抱えている問題点の確認、共有</div>
<div class="t" id="t115_0" style="left:704.25px;top:2268.25px;font-size:9px;line-height:14px;color:#262626;letter-spacing:0.180px">どうすれば自分が理想とする状態になれるのかわからない</div>
<div class="t" id="t116_0" style="left:704.25px;top:2292.25px;font-size:9px;line-height:14px;color:#262626;letter-spacing:0.109px">何を誰から学べば良いのかわからない</div>
<div class="t" id="t117_0" style="left:704.25px;top:2316.25px;font-size:9px;line-height:14px;color:#262626;letter-spacing:0.190px">やらないといけないことが多くて実践が出来ない</div>
<div class="t" id="t118_0" style="left:482.50px;top:2441.75px;font-size:9px;line-height:14px;color:#262626;letter-spacing:0.205px">2. 視聴者自身が気づいていない本当の問題点の提示</div>
<div class="t" id="t119_0" style="left:741.25px;top:2352.25px;font-size:9px;line-height:14px;color:#262626;letter-spacing:0.205px">1. これまで主流だった方法ではうまくいかない方、失敗する方がいるという具体例を挙げる</div>
<div class="t" id="t120_0" style="left:1169.00px;top:2340.05px;font-size:9px;line-height:14px;color:#262626;letter-spacing:0.177px">いろいろと学んだ方が良いとは思っているが時間がない</div>
<div class="t" id="t121_0" style="left:1169.00px;top:2363.95px;font-size:9px;line-height:14px;color:#262626;letter-spacing:0.172px">本を読んでも内容を覚えていない、実践出来ていない</div>
<div class="t" id="t122_0" style="left:741.25px;top:2412.00px;font-size:9px;line-height:14px;color:#262626;letter-spacing:0.205px">2. これまでの方法ではうまくいかない理由を明確に説明する</div>
<div class="t" id="t123_0" style="left:1036.60px;top:2387.95px;font-size:9px;line-height:14px;color:#262626;letter-spacing:0.183px">学校や大学の授業では、人生を良くする方法は教えてくれない</div>
<div class="t" id="t124_0" style="left:1036.60px;top:2411.85px;font-size:9px;line-height:14px;color:#262626;letter-spacing:0.193px">大人になっても学ばなければ問題は解決されない</div>
<div class="t" id="t125_0" style="left:1036.60px;top:2436.15px;font-size:9px;line-height:14px;color:#262626;letter-spacing:0.134px">本を読んだだけでは現実は変わらない</div>
<div class="t" id="t126_0" style="left:741.25px;top:2472.00px;font-size:9px;line-height:14px;color:#262626;letter-spacing:0.205px">3. 一方で、新しい方法を試してみたところ、成功する方が続出した</div>
<div class="t" id="t127_0" style="left:1064.80px;top:2459.75px;font-size:9px;line-height:14px;color:#262626;letter-spacing:0.233px">本当に学ぶべきことを学んで実践している人は成功している</div>
<div class="t" id="t128_0" style="left:1064.80px;top:2484.05px;font-size:9px;line-height:14px;color:#262626;letter-spacing:0.193px">成功している人は学び続け、実践し続けている</div>
<div class="t" id="t129_0" style="left:741.25px;top:2532.25px;font-size:9px;line-height:14px;color:#262626;letter-spacing:0.205px">4. 新しい方法が成功する理由を明確に伝える</div>
<div class="t" id="t130_0" style="left:972.50px;top:2507.95px;font-size:9px;line-height:14px;color:#262626;letter-spacing:0.183px">成功するために学ぶべき項目を学ぶ</div>
<div class="t" id="t131_0" style="left:972.50px;top:2531.95px;font-size:9px;line-height:14px;color:#262626;letter-spacing:0.183px">本物のノウハウをもった人から学ぶ</div>
<div class="t" id="t132_0" style="left:972.50px;top:2555.85px;font-size:9px;line-height:14px;color:#262626;letter-spacing:0.288px">学んだことを継続して実践する</div>
<div class="t" id="t133_0" style="left:291.00px;top:2631.50px;font-size:12px;line-height:20px;color:#3d3d3d;letter-spacing:-0.038px">有益な情報と解決策を提示する</div>
<div class="t" id="t134_0" style="left:505.50px;top:2589.25px;font-size:9px;line-height:14px;color:#262626;letter-spacing:0.450px">何を学ぶか？</div>
<div class="t" id="t135_0" style="left:505.50px;top:2612.75px;font-size:9px;line-height:14px;color:#262626;letter-spacing:0.375px">誰から学ぶか？</div>
<div class="t" id="t136_0" style="left:505.50px;top:2637.25px;font-size:9px;line-height:14px;color:#262626;letter-spacing:0.325px">どうやって実践するか？</div>
<div class="t" id="t137_0" style="left:505.50px;top:2661.25px;font-size:9px;line-height:14px;color:#262626;letter-spacing:0.220px">これら３つのことを全て解決する日本人のためのオンライン講座を用意した</div>
<div class="t" id="t138_0" style="left:291.00px;top:2716.30px;font-size:12px;line-height:20px;color:#3d3d3d;letter-spacing:-0.056px">金銭的価値を提示する</div>
<div class="t" id="t139_0" style="left:458.00px;top:2696.25px;font-size:9px;line-height:14px;color:#262626;letter-spacing:0.238px">海外の大学へMBAを取りにいくよりも直接的にあなたの人生に影響を与えるオンライン講座</div>
<div class="t" id="t140_0" style="left:458.00px;top:2722.25px;font-size:9px;line-height:14px;color:#262626;letter-spacing:0.464px">MBAを取りにいったら、500万円以上掛かる</div>
<div class="t" id="t141_0" style="left:291.00px;top:2767.00px;font-size:12px;line-height:20px;color:#3d3d3d;letter-spacing:-0.045px">販売したい商品を説明する</div>
<div class="t" id="t142_0" style="left:481.50px;top:2759.75px;font-size:9px;line-height:14px;color:#262626;letter-spacing:0.675px">オンライン講座「叡智」</div>
<div class="t" id="t143_0" style="left:291.00px;top:2814.50px;font-size:12px;line-height:20px;color:#3d3d3d;letter-spacing:-0.062px">成功事例を説明する</div>
</div></body></html>
